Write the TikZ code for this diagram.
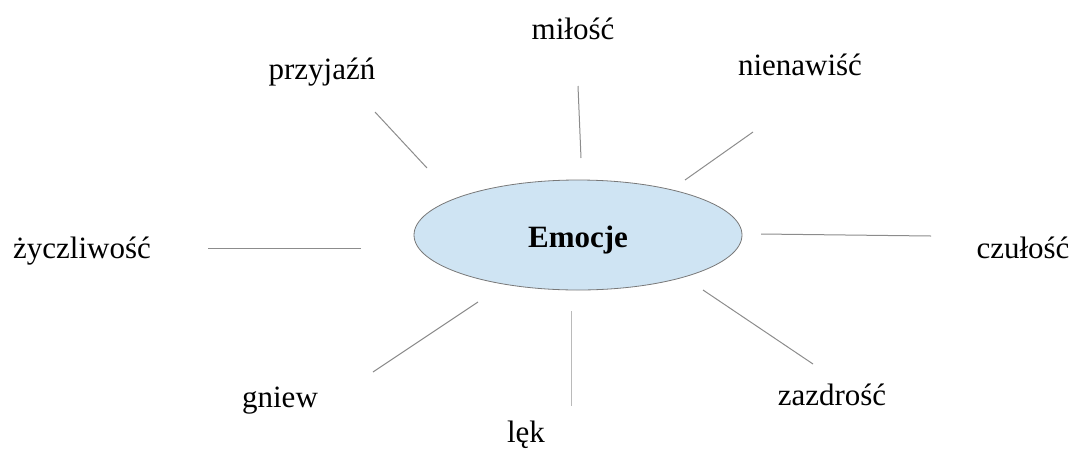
\documentclass[tikz,border=0pt]{standalone}
\usepackage{fontspec}
\setmainfont{Liberation Serif}
\usepackage{tikz}
\usetikzlibrary{positioning}
\usetikzlibrary{shapes.geometric}
\definecolor{emofill}{RGB}{207, 228, 243}
\definecolor{emorim}{RGB}{120, 120, 120}
\definecolor{spokegray}{RGB}{140, 140, 140}

\begin{document}
\begin{tikzpicture}[x=1pt, y=-1pt,
        every node/.style={font=\fontsize{31}{37}\selectfont},
        word/.style={anchor=base, inner sep=0pt},
        spoke/.style={draw=spokegray, line width=1pt}]

        \useasboundingbox (0,0) rectangle (1076,448);

        % Centre ellipse
        \node[ellipse, draw=emorim, line width=0.8pt, fill=emofill, minimum width=328, minimum height=110, inner sep=0pt, text height=24pt, text depth=0pt] (emocje) at (578,235) {\textbf{Emocje}};

        % Words round it
        \node[word] (milosc) at (573,39) {miłość};
        \node[word] (przyjazn) at (322,79) {przyjaźń};
        \node[word] (nienawisc) at (800,75) {nienawiść};
        \node[word] (zyczliwosc) at (82,258) {życzliwość};
        \node[word] (czulosc) at (1023,258) {czułość};
        \node[word] (gniew) at (280,407) {gniew};
        \node[word] (lek) at (526,442) {lęk};
        \node[word] (zazdrosc) at (832,405) {zazdrość};

        % Ends of the spokes
        \coordinate (milosc-a) at (581,158);
        \coordinate (milosc-b) at (578,86);
        \coordinate (przyjazn-a) at (427,168);
        \coordinate (przyjazn-b) at (375,112);
        \coordinate (nienawisc-a) at (685,180);
        \coordinate (nienawisc-b) at (753,132);
        \coordinate (zyczliwosc-a) at (361,248);
        \coordinate (zyczliwosc-b) at (208,248);
        \coordinate (czulosc-a) at (761,234);
        \coordinate (czulosc-b) at (931,236);
        \coordinate (gniew-a) at (478,302);
        \coordinate (gniew-b) at (373,372);
        \coordinate (lek-a) at (571,311);
        \coordinate (lek-b) at (571,406);
        \coordinate (zazdrosc-a) at (703,290);
        \coordinate (zazdrosc-b) at (813,364);

        % Spokes
        \draw[spoke] (milosc-a) -- (milosc-b);
        \draw[spoke] (przyjazn-a) -- (przyjazn-b);
        \draw[spoke] (nienawisc-a) -- (nienawisc-b);
        \draw[spoke] (zyczliwosc-a) -- (zyczliwosc-b);
        \draw[spoke] (czulosc-a) -- (czulosc-b);
        \draw[spoke] (gniew-a) -- (gniew-b);
        \draw[spoke, draw=spokegray!60] (lek-a) -- (lek-b);
        \draw[spoke] (zazdrosc-a) -- (zazdrosc-b);

    \end{tikzpicture}
\end{document}
